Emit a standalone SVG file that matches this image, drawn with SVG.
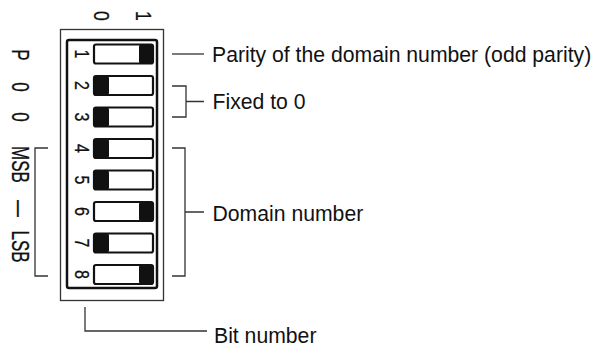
<svg xmlns="http://www.w3.org/2000/svg" width="593" height="347" viewBox="0 0 593 347">
<style>
.t{font-family:"Liberation Sans",Arial,sans-serif;font-size:21.2px;fill:#111}
.r{font-family:"Liberation Sans",Arial,sans-serif;fill:#111;text-anchor:middle;stroke:#111;stroke-width:0.3}
.ln{stroke:#333;stroke-width:1.3;fill:none}
.sw{fill:none;stroke:#111;stroke-width:2.2}
.blk{fill:#111}
</style>
<defs>
<g id="sw1"><rect x="0" y="0" width="59" height="19" rx="2" fill="#fff"/><rect class="blk" x="45" y="0" width="14" height="19" rx="2"/><rect class="sw" x="0" y="0" width="59" height="19" rx="2"/></g>
<g id="sw0"><rect x="0" y="0" width="59" height="19" rx="2" fill="#fff"/><rect class="blk" x="0" y="0" width="15" height="19" rx="2"/><rect class="sw" x="0" y="0" width="59" height="19" rx="2"/></g>
</defs>
<g id="switch-body">
<rect x="60.5" y="29.5" width="103" height="271" fill="#fff" stroke="#333" stroke-width="1.3"/>
<rect x="67" y="40" width="90" height="248" rx="2" fill="none" stroke="#111" stroke-width="2.5"/>
</g>
<g id="positions">
<text class="r" font-size="22" transform="translate(93.5,16) rotate(90) scale(0.8,1)">0</text>
<text class="r" font-size="22" transform="translate(135.5,16) rotate(90) scale(0.8,1)">1</text>
</g>
<g id="switches">
<use href="#sw1" x="94" y="44.5"/>
<use href="#sw0" x="94" y="76"/>
<use href="#sw0" x="94" y="107.5"/>
<use href="#sw0" x="94" y="139"/>
<use href="#sw0" x="94" y="170.5"/>
<use href="#sw1" x="94" y="202"/>
<use href="#sw0" x="94" y="233.5"/>
<use href="#sw1" x="94" y="265"/>
</g>
<g id="bit-labels">
<text class="r" font-size="19.5" transform="translate(74.5,54) rotate(90) scale(0.82,1)">1</text>
<text class="r" font-size="19.5" transform="translate(74.5,85.5) rotate(90) scale(0.82,1)">2</text>
<text class="r" font-size="19.5" transform="translate(74.5,117) rotate(90) scale(0.82,1)">3</text>
<text class="r" font-size="19.5" transform="translate(74.5,148.5) rotate(90) scale(0.82,1)">4</text>
<text class="r" font-size="19.5" transform="translate(74.5,180) rotate(90) scale(0.82,1)">5</text>
<text class="r" font-size="19.5" transform="translate(74.5,211.5) rotate(90) scale(0.82,1)">6</text>
<text class="r" font-size="19.5" transform="translate(74.5,243) rotate(90) scale(0.82,1)">7</text>
<text class="r" font-size="19.5" transform="translate(74.5,274.5) rotate(90) scale(0.82,1)">8</text>
</g>
<g id="left-labels">
<text class="r" font-size="23" transform="translate(11.7,55) rotate(90) scale(0.74,1)">P</text>
<text class="r" font-size="23" transform="translate(11.7,87) rotate(90) scale(0.74,1)">0</text>
<text class="r" font-size="23" transform="translate(11.7,117) rotate(90) scale(0.74,1)">0</text>
<text class="r" font-size="23" transform="translate(11.7,164.5) rotate(90) scale(0.74,1)">MSB</text>
<text class="r" font-size="23" transform="translate(11.7,208.5) rotate(90) scale(0.74,1)">—</text>
<text class="r" font-size="23" transform="translate(11.7,246.5) rotate(90) scale(0.74,1)">LSB</text>
</g>
<g id="connectors">
<path class="ln" d="M48,148H35V276H48"/>
<path class="ln" d="M172,54H204"/>
<path class="ln" d="M172,86H186V117H172M186,101.5H204"/>
<path class="ln" d="M172,148H185V276H172M185,212H204"/>
<path class="ln" d="M85,307V331H207"/>
</g>
<g id="labels">
<text class="t" x="212" y="62.3">Parity of the domain number (odd parity)</text>
<text class="t" x="212.5" y="109.3">Fixed to 0</text>
<text class="t" x="212.5" y="220.7">Domain number</text>
<text class="t" x="214" y="343">Bit number</text>
</g>
</svg>
